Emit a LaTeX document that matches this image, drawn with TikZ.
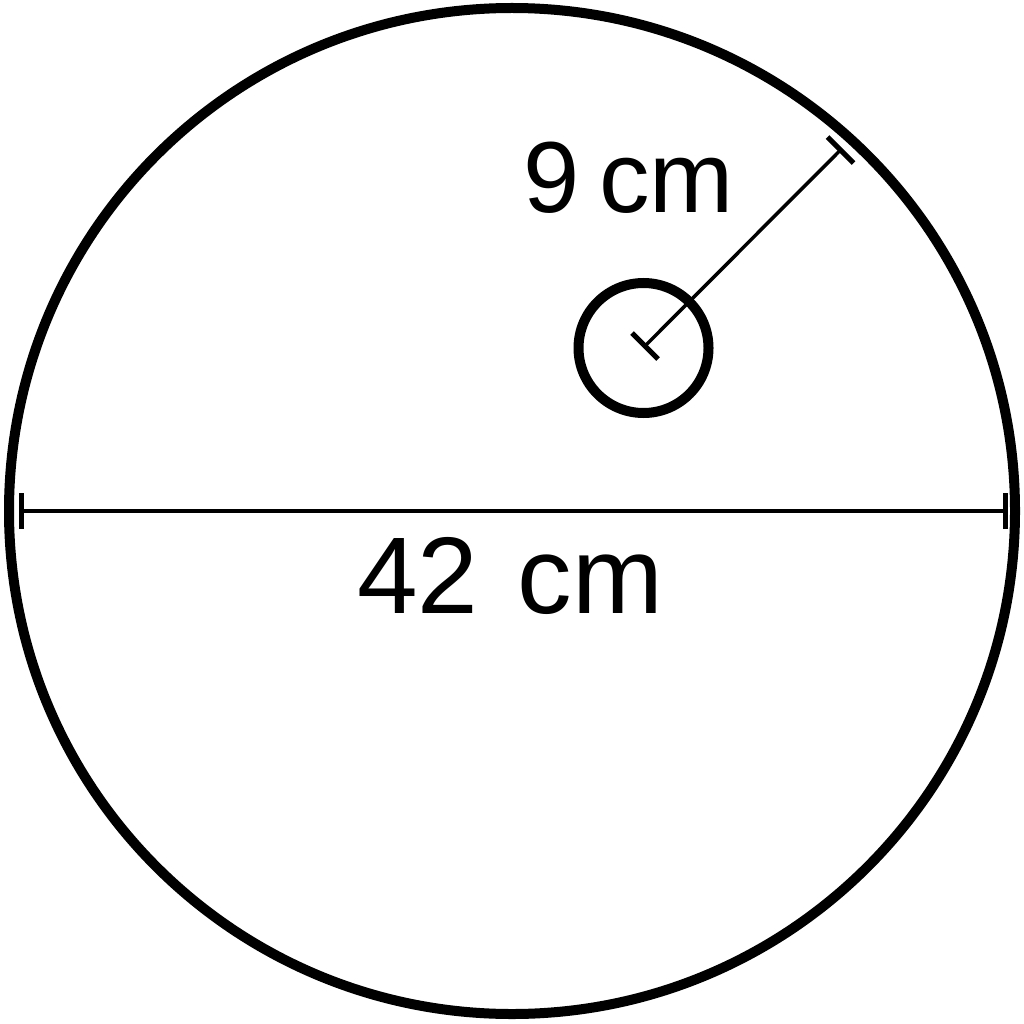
\documentclass[tikz,border=0pt]{standalone}
\usepackage{fontspec}
\setmainfont{Liberation Sans}
\usetikzlibrary{calc}
\begin{document}
\begin{tikzpicture}[x=1pt,y=-1pt,
  ring/.style={draw=black,line width=10pt},
  dimline/.style={draw=black,line width=3.5pt},
  tick/.style={draw=black,line width=5pt},
  lbl/.style={anchor=base,inner sep=0pt,font=\fontsize{109}{120}\selectfont}]
\useasboundingbox (0,0) rectangle (1023,1024);
\coordinate (C) at (512,511);
\coordinate (c) at (643.5,348);
\draw[ring] (C) circle[radius=503];
\draw[ring] (c) circle[radius=65];
% diameter
\coordinate (dl) at (21,511);
\coordinate (dr) at (1005,511);
\draw[dimline] (dl) -- (dr);
\draw[tick] ($(dl)+(0,-18)$) -- ($(dl)+(0,18)$);
\draw[tick] ($(dr)+(0,-18)$) -- ($(dr)+(0,18)$);
% radius
\coordinate (rs) at (645,346);
\coordinate (re) at (840.5,150);
\draw[dimline] (rs) -- (re);
\draw[tick] ($(rs)+(-13,-13)$) -- ($(rs)+(13,13)$);
\draw[tick] ($(re)+(-13,-13)$) -- ($(re)+(13,13)$);
\node[lbl] (d) at (510,613) {42\hspace{0.36em}cm};
\node[lbl,font=\fontsize{101}{110}\selectfont] (r) at (628.5,213) {9\hspace{0.2em}cm};
\end{tikzpicture}
\end{document}
